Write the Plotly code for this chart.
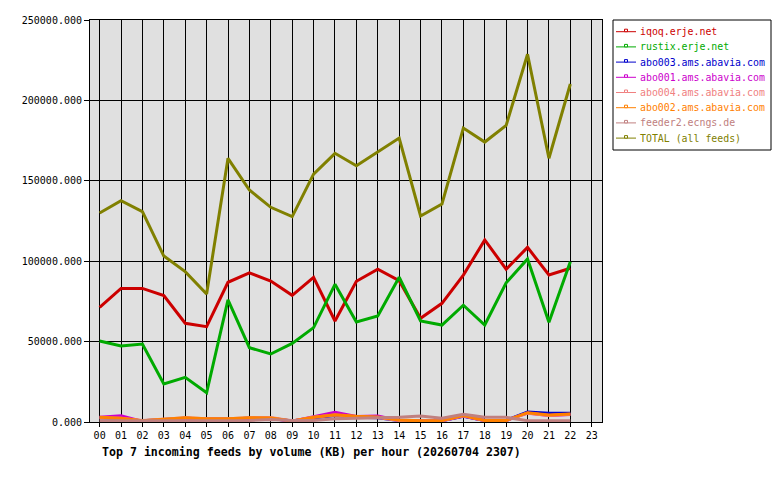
import plotly.graph_objects as go

hours = list(range(23))
hour_labels = [f"{h:02d}" for h in range(24)]

iqoq = [71300, 83100, 83100, 78600, 61400, 59300, 86900, 92700, 87700, 78800, 90000, 62800,
        87500, 95000, 87900, 64500, 73800, 91400, 113200, 95000, 108600, 91400, 95600]
rustix = [50400, 47300, 48500, 23600, 27800, 18200, 75900, 46200, 42300, 48900, 58700, 85600,
          62200, 65900, 90000, 62800, 60300, 72600, 60300, 86600, 101400, 62000, 99700]
abo003 = [2600, 2200, 700, 1500, 2400, 1900, 1900, 2400, 2200, 600, 2600, 4000,
          3000, 2600, 900, 600, 800, 3600, 900, 1000, 6200, 5400, 5400]
abo001 = [3000, 3900, 300, 1300, 2400, 1900, 1900, 2400, 2300, 500, 3200, 6000,
          3400, 3700, 900, 600, 800, 3700, 900, 1000, 5600, 4000, 4600]
abo004 = [2700, 2400, 900, 1600, 2600, 2000, 2000, 2600, 2800, 600, 2900, 4300,
          3300, 2800, 900, 600, 800, 3900, 900, 1000, 5500, 4000, 4800]
abo002 = [2900, 2300, 800, 1500, 2600, 2000, 2000, 2700, 2500, 700, 3000, 4500,
          3500, 3100, 1200, 700, 1000, 4000, 1000, 1000, 5800, 4400, 5000]
feeder2 = [700, 700, 700, 700, 700, 700, 700, 900, 1500, 900, 1000, 2000,
           2300, 2500, 2900, 3700, 2300, 4800, 2900, 2900, 800, 800, 800]
total = [130000, 137600, 130800, 103200, 93500, 79600, 164000, 144300, 133500, 127700, 154200, 167100,
         159400, 168100, 176600, 128100, 135600, 182800, 174100, 184500, 228700, 164000, 210200]

series = [
    ("iqoq.erje.net", iqoq, "#cc0000"),
    ("rustix.erje.net", rustix, "#00aa00"),
    ("abo003.ams.abavia.com", abo003, "#0000cc"),
    ("abo001.ams.abavia.com", abo001, "#cc00cc"),
    ("abo004.ams.abavia.com", abo004, "#f08080"),
    ("abo002.ams.abavia.com", abo002, "#ff8000"),
    ("feeder2.ecngs.de", feeder2, "#c08080"),
    ("TOTAL (all feeds)", total, "#808000"),
]

FONT = "DejaVu Sans Mono"
W, H = 780, 480
ML, MR, MT, MB = 90, 178, 20, 58
PW, PH = W - ML - MR, H - MT - MB


def px(x):
    return (x - ML) / PW


def py(y):
    return (H - MB - y) / PH


fig = go.Figure()
for name, vals, col in series:
    fig.add_trace(go.Scatter(
        x=hours, y=vals, mode="lines",
        line=dict(color=col, width=3),
        name=name, showlegend=False,
    ))

# Legend drawn as shapes + annotations (compact, like the original image)
shapes = [dict(type="rect", xref="paper", yref="paper",
               x0=px(613), x1=px(771), y0=py(20), y1=py(150),
               line=dict(color="black", width=1), fillcolor="white", layer="above")]
annotations = []
for i, (name, vals, col) in enumerate(series):
    yc = 31.7 + i * 15.2
    shapes.append(dict(type="line", xref="paper", yref="paper",
                       x0=px(616), x1=px(636), y0=py(yc), y1=py(yc),
                       line=dict(color=col, width=1), layer="above"))
    shapes.append(dict(type="rect", xref="paper", yref="paper",
                       x0=px(624.5), x1=px(627.5), y0=py(yc), y1=py(yc - 2.5),
                       line=dict(color=col, width=1), fillcolor="white", layer="above"))
    annotations.append(dict(x=px(637.5), y=py(yc), xref="paper", yref="paper",
                            xanchor="left", yanchor="middle", showarrow=False,
                            text=name, font=dict(family=FONT, size=9.9, color=col)))

annotations.append(dict(
    x=px(99.5), y=py(452), xref="paper", yref="paper",
    xanchor="left", yanchor="middle",
    text="<b>Top 7 incoming feeds by volume (KB) per hour (20260704 2307)</b>",
    showarrow=False, font=dict(family=FONT, size=11.6, color="black"),
))

fig.update_layout(
    width=W, height=H,
    margin=dict(l=ML, r=MR, t=MT, b=MB),
    paper_bgcolor="white",
    plot_bgcolor="#e0e0e0",
    font=dict(family=FONT, size=10, color="black"),
    showlegend=False,
    shapes=shapes,
    annotations=annotations,
)

fig.update_xaxes(
    range=[-0.45, 23.48],
    tickmode="array", tickvals=list(range(24)), ticktext=hour_labels,
    showgrid=True, gridcolor="black", gridwidth=1,
    showline=True, linecolor="black", linewidth=1, mirror=True,
    ticks="outside", ticklen=4, tickcolor="black",
    zeroline=False,
    tickfont=dict(family=FONT, size=10),
)
fig.update_yaxes(
    range=[0, 250000],
    tickmode="array", tickvals=[0, 50000, 100000, 150000, 200000, 250000],
    tickformat=".3f",
    showgrid=True, gridcolor="black", gridwidth=1,
    showline=True, linecolor="black", linewidth=1, mirror=True,
    ticks="outside", ticklen=5, tickcolor="black",
    zeroline=False,
    tickfont=dict(family=FONT, size=10),
)

fig.write_html("out.html")
